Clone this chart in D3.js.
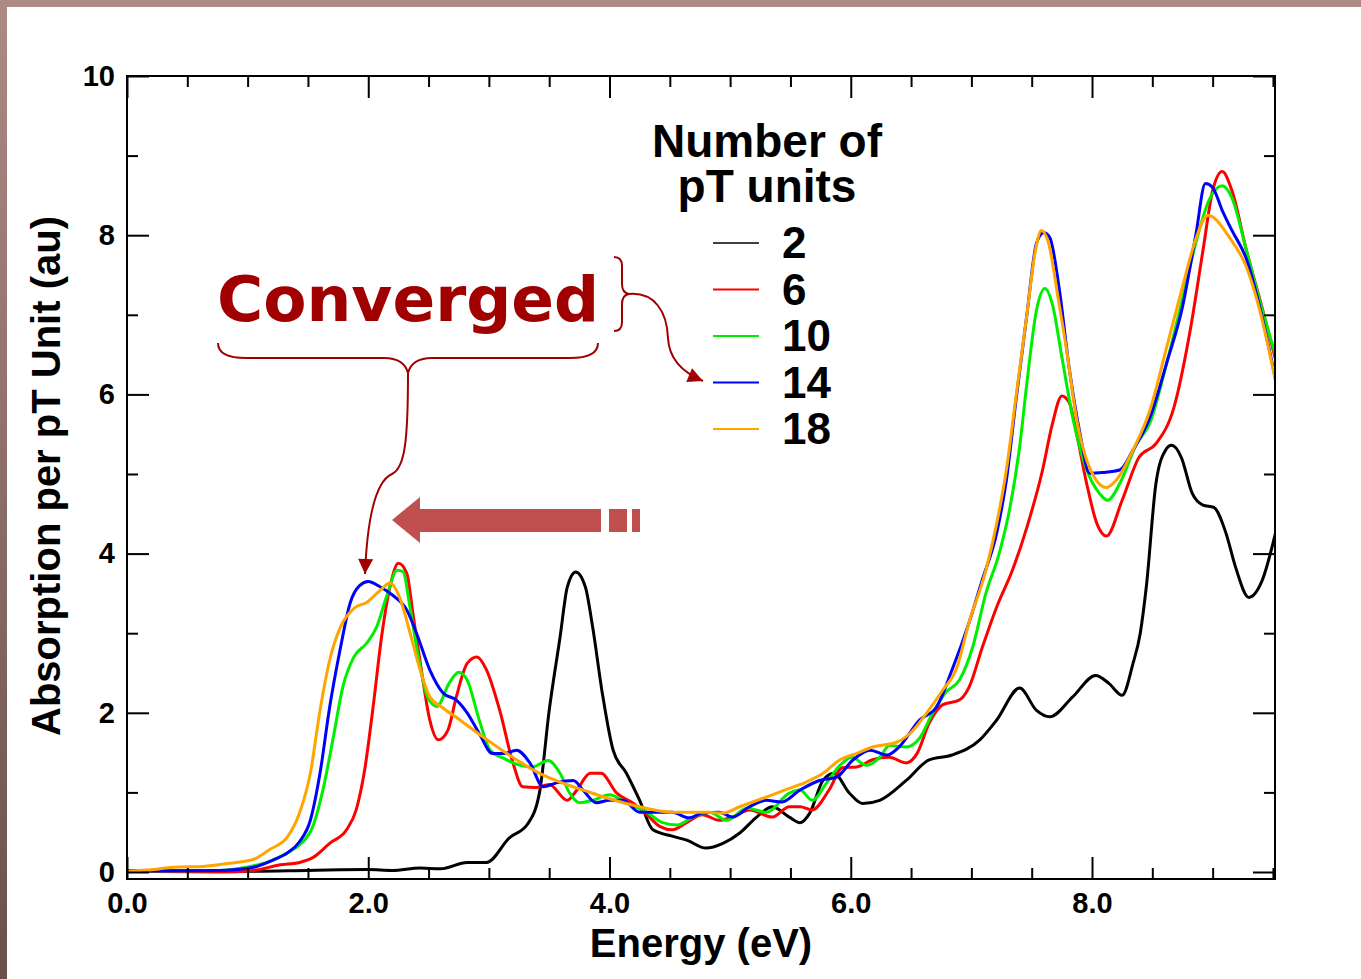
<!DOCTYPE html>
<html>
<head>
<meta charset="utf-8">
<script src="https://cdn.jsdelivr.net/npm/d3@7"></script>
<style>
	body { margin: 0; background: #fff; }
	svg text { font-family: 'Liberation Sans', Arial, sans-serif; font-weight: bold; fill: #000; }
</style>
</head>
<body>
<svg id="chart" width="1361" height="979"></svg>
<script>
// legend entries (number of pT units) and the matching spectra [energy eV, absorption au]
const units = ['2', '6', '10', '14', '18'];

const abs2 = [[0, 0.02], [0.5, 0.02], [1.0, 0.01], [1.5, 0.02], [2.0, 0.03], [2.2, 0.02], [2.43, 0.05], [2.6, 0.04],
	[2.82, 0.12], [2.98, 0.12], [3.17, 0.43], [3.32, 0.6], [3.42, 1.0], [3.5, 2.03], [3.59, 2.95], [3.65, 3.58],
	[3.72, 3.77], [3.8, 3.58], [3.86, 3.08], [3.94, 2.25], [4.03, 1.53], [4.14, 1.24], [4.25, 0.9], [4.36, 0.53],
	[4.52, 0.45], [4.64, 0.4], [4.8, 0.3], [4.94, 0.36], [5.08, 0.49], [5.22, 0.69], [5.35, 0.82], [5.49, 0.69],
	[5.58, 0.62], [5.66, 0.74], [5.77, 1.15], [5.86, 1.24], [5.99, 0.99], [6.1, 0.86], [6.24, 0.9], [6.46, 1.15],
	[6.65, 1.41], [6.84, 1.47], [7.07, 1.66], [7.21, 1.91], [7.4, 2.31], [7.54, 2.03], [7.65, 1.95], [7.84, 2.2],
	[8.03, 2.47], [8.14, 2.37], [8.25, 2.22], [8.34, 2.62], [8.4, 3.0], [8.45, 3.58], [8.53, 4.88], [8.61, 5.3],
	[8.66, 5.36], [8.74, 5.21], [8.83, 4.76], [8.92, 4.61], [9.01, 4.58], [9.11, 4.26], [9.19, 3.83], [9.3, 3.45],
	[9.41, 3.66], [9.52, 4.25]];

const abs6 = [[0, 0.01], [0.77, 0.0], [1.05, 0.02], [1.27, 0.09], [1.43, 0.12], [1.54, 0.18], [1.68, 0.36], [1.82, 0.53],
	[1.9, 0.78], [1.97, 1.28], [2.04, 2.07], [2.11, 2.95], [2.18, 3.58], [2.25, 3.88], [2.32, 3.75], [2.37, 3.25],
	[2.44, 2.54], [2.51, 1.91], [2.58, 1.66], [2.66, 1.78], [2.73, 2.2], [2.82, 2.62], [2.9, 2.7], [2.98, 2.54],
	[3.09, 2.03], [3.2, 1.37], [3.28, 1.07], [3.39, 1.06], [3.5, 1.1], [3.65, 0.9], [3.73, 1.03], [3.84, 1.24],
	[3.93, 1.24], [4.06, 0.99], [4.19, 0.87], [4.31, 0.72], [4.42, 0.57], [4.52, 0.53], [4.64, 0.62], [4.77, 0.72],
	[4.91, 0.65], [5.02, 0.69], [5.16, 0.78], [5.35, 0.69], [5.49, 0.82], [5.58, 0.82], [5.68, 0.78], [5.82, 1.03],
	[5.93, 1.31], [6.05, 1.32], [6.18, 1.41], [6.32, 1.44], [6.46, 1.37], [6.55, 1.49], [6.65, 1.87], [6.76, 2.1],
	[6.9, 2.16], [6.98, 2.32], [7.09, 2.82], [7.21, 3.33], [7.34, 3.79], [7.46, 4.33], [7.59, 5.05], [7.67, 5.62],
	[7.75, 5.98], [7.81, 5.9], [7.88, 5.45], [7.95, 4.92], [8.04, 4.38], [8.12, 4.22], [8.25, 4.67], [8.39, 5.21],
	[8.53, 5.38], [8.68, 5.84], [8.81, 6.77], [8.92, 7.81], [9.0, 8.56], [9.08, 8.8], [9.16, 8.56], [9.28, 7.81],
	[9.41, 7.09], [9.52, 6.45]];

const abs10 = [[0, 0.01], [0.77, 0.02], [0.99, 0.06], [1.16, 0.12], [1.33, 0.24], [1.43, 0.34], [1.54, 0.57], [1.63, 1.07],
	[1.71, 1.69], [1.79, 2.33], [1.88, 2.7], [1.99, 2.88], [2.07, 3.08], [2.15, 3.45], [2.24, 3.79], [2.29, 3.77],
	[2.34, 3.38], [2.41, 2.75], [2.49, 2.2], [2.57, 2.08], [2.67, 2.37], [2.75, 2.51], [2.82, 2.41], [2.92, 1.91],
	[3.01, 1.53], [3.12, 1.43], [3.26, 1.34], [3.36, 1.32], [3.49, 1.4], [3.59, 1.24], [3.67, 0.99], [3.75, 0.87],
	[3.86, 0.9], [4.0, 0.97], [4.14, 0.87], [4.31, 0.75], [4.44, 0.62], [4.56, 0.59], [4.69, 0.69], [4.83, 0.75],
	[4.97, 0.65], [5.14, 0.8], [5.3, 0.75], [5.49, 0.99], [5.58, 1.03], [5.68, 0.9], [5.8, 1.12], [5.91, 1.34],
	[6.01, 1.44], [6.13, 1.34], [6.24, 1.44], [6.32, 1.59], [6.46, 1.57], [6.57, 1.68], [6.68, 2.0], [6.79, 2.26],
	[6.9, 2.41], [7.01, 2.82], [7.12, 3.5], [7.23, 4.0], [7.32, 4.58], [7.4, 5.34], [7.46, 6.14], [7.54, 7.06],
	[7.61, 7.33], [7.67, 7.14], [7.75, 6.47], [7.84, 5.71], [7.95, 5.08], [8.06, 4.76], [8.13, 4.67], [8.23, 4.88],
	[8.37, 5.38], [8.48, 5.64], [8.62, 6.4], [8.75, 7.2], [8.86, 7.9], [8.97, 8.44], [9.08, 8.62], [9.16, 8.47],
	[9.28, 7.81], [9.39, 7.18], [9.52, 6.5]];

const abs14 = [[0, 0.01], [0.77, 0.02], [1.05, 0.06], [1.21, 0.15], [1.33, 0.24], [1.43, 0.38], [1.52, 0.65], [1.6, 1.24],
	[1.68, 2.07], [1.77, 2.82], [1.85, 3.38], [1.93, 3.6], [2.0, 3.65], [2.1, 3.58], [2.2, 3.48], [2.32, 3.29],
	[2.4, 3.0], [2.51, 2.54], [2.62, 2.25], [2.73, 2.16], [2.82, 2.0], [2.92, 1.74], [3.03, 1.49], [3.12, 1.49],
	[3.23, 1.53], [3.34, 1.37], [3.45, 1.07], [3.56, 1.12], [3.7, 1.15], [3.78, 1.03], [3.89, 0.87], [4.0, 0.9],
	[4.11, 0.9], [4.25, 0.75], [4.39, 0.75], [4.52, 0.75], [4.66, 0.68], [4.77, 0.74], [4.91, 0.75], [5.02, 0.69],
	[5.16, 0.82], [5.3, 0.9], [5.43, 0.88], [5.58, 1.03], [5.74, 1.15], [5.88, 1.19], [6.02, 1.41], [6.16, 1.53],
	[6.3, 1.47], [6.4, 1.57], [6.57, 1.91], [6.71, 2.07], [6.84, 2.54], [6.98, 3.13], [7.09, 3.67], [7.21, 4.26],
	[7.29, 4.92], [7.37, 5.93], [7.46, 7.0], [7.54, 7.9], [7.6, 8.03], [7.65, 7.97], [7.73, 7.31], [7.81, 6.34],
	[7.9, 5.51], [7.98, 5.01], [8.09, 5.02], [8.23, 5.05], [8.34, 5.3], [8.48, 5.71], [8.62, 6.4], [8.75, 7.1],
	[8.86, 8.0], [8.94, 8.65], [9.0, 8.6], [9.08, 8.31], [9.16, 8.06], [9.28, 7.7], [9.39, 7.1], [9.52, 6.2]];

const abs18 = [[0, 0.01], [0.22, 0.03], [0.38, 0.06], [0.63, 0.07], [0.85, 0.11], [1.05, 0.16], [1.18, 0.28], [1.33, 0.44],
	[1.43, 0.74], [1.52, 1.24], [1.6, 2.03], [1.68, 2.66], [1.77, 3.08], [1.88, 3.31], [1.99, 3.39], [2.1, 3.54],
	[2.18, 3.63], [2.26, 3.45], [2.34, 3.04], [2.43, 2.54], [2.51, 2.2], [2.62, 2.06], [2.76, 1.91], [2.92, 1.73],
	[3.09, 1.55], [3.26, 1.38], [3.42, 1.24], [3.59, 1.13], [3.8, 1.02], [3.98, 0.93], [4.25, 0.82], [4.52, 0.75],
	[4.8, 0.75], [4.94, 0.74], [5.08, 0.82], [5.35, 0.97], [5.49, 1.05], [5.63, 1.13], [5.77, 1.24], [5.91, 1.41],
	[6.05, 1.49], [6.18, 1.57], [6.38, 1.63], [6.49, 1.74], [6.63, 2.0], [6.76, 2.28], [6.88, 2.57], [6.98, 3.13],
	[7.12, 3.79], [7.21, 4.38], [7.29, 5.05], [7.37, 5.97], [7.46, 7.0], [7.53, 7.8], [7.58, 8.06], [7.64, 7.9],
	[7.72, 7.2], [7.79, 6.55], [7.87, 5.71], [7.98, 5.08], [8.12, 4.83], [8.2, 4.92], [8.34, 5.3], [8.48, 5.8],
	[8.62, 6.6], [8.75, 7.35], [8.86, 7.95], [8.96, 8.25], [9.14, 7.97], [9.28, 7.6], [9.39, 7.06], [9.52, 6.18]];

const spectra = [abs2, abs6, abs10, abs14, abs18];
const colors = ['#000000', '#ff0000', '#00ee00', '#0000ff', '#ffa500'];

const xMajor = [0, 2, 4, 6, 8];
const xMinor = [0.5, 1, 1.5, 2.5, 3, 3.5, 4.5, 5, 5.5, 6.5, 7, 7.5, 8.5, 9, 9.5];
const yMajor = [0, 2, 4, 6, 8, 10];
const yMinor = [1, 3, 5, 7, 9];

const svg = d3.select('#chart');
const plotLeft = 127, plotRight = 1275, plotTop = 76, plotBottom = 879;

const x = d3.scaleLinear().domain([0, 9.517]).range([plotLeft, plotRight]);
const y = d3.scaleLinear().domain([-0.088, 10]).range([plotBottom, plotTop]);

// slide frame: brownish strip on top and a darkening strip on the left
const defs = svg.append('defs');
const grad = defs.append('linearGradient')
	.attr('id', 'sideGrad').attr('x1', 0).attr('y1', 0).attr('x2', 0).attr('y2', 1);
grad.append('stop').attr('offset', '0%').attr('stop-color', '#ad8a84');
grad.append('stop').attr('offset', '100%').attr('stop-color', '#6a504c');
svg.append('rect').attr('x', 0).attr('y', 0).attr('width', 1361).attr('height', 7).attr('fill', '#ad8a84');
svg.append('rect').attr('x', 0).attr('y', 0).attr('width', 7).attr('height', 979).attr('fill', 'url(#sideGrad)');

// arrow head for the annotation
defs.append('marker')
	.attr('id', 'head')
	.attr('viewBox', '0 0 10 10')
	.attr('refX', 10).attr('refY', 5)
	.attr('markerUnits', 'userSpaceOnUse')
	.attr('markerWidth', 17).attr('markerHeight', 15)
	.attr('orient', 'auto')
	.append('path').attr('d', 'M0,0 L10,5 L0,10 Z').attr('fill', '#a00000');

defs.append('clipPath').attr('id', 'plotClip')
	.append('rect').attr('x', plotLeft).attr('y', plotTop)
	.attr('width', plotRight - plotLeft).attr('height', plotBottom - plotTop);

// spectra
const line = d3.line()
	.x((d) => x(d[0]))
	.y((d) => y(d[1]))
	.curve(d3.curveMonotoneX);

svg.append('g').attr('clip-path', 'url(#plotClip)')
	.selectAll('path.spectrum')
	.data(spectra)
	.enter().append('path')
	.attr('class', 'spectrum')
	.attr('d', line)
	.attr('fill', 'none')
	.attr('stroke', (d, i) => colors[i])
	.attr('stroke-width', 3)
	.attr('stroke-linejoin', 'round');

// axes, ticks point inwards on all four sides
function styleAxis(g) {
	g.select('.domain').remove();
	g.selectAll('.tick line').attr('stroke', '#000').attr('stroke-width', 2);
	g.selectAll('.tick text').attr('font-size', 29).attr('fill', '#000');
}

svg.append('g').attr('transform', 'translate(0,' + plotBottom + ')')
	.call(d3.axisBottom(x).tickValues(xMajor).tickSize(-22).tickPadding(13).tickFormat(d3.format('.1f')))
	.call(styleAxis);
svg.append('g').attr('transform', 'translate(0,' + plotBottom + ')')
	.call(d3.axisBottom(x).tickValues(xMinor).tickSize(-11).tickFormat(''))
	.call(styleAxis);
svg.append('g').attr('transform', 'translate(0,' + plotTop + ')')
	.call(d3.axisTop(x).tickValues(xMajor).tickSize(-22).tickFormat(''))
	.call(styleAxis);
svg.append('g').attr('transform', 'translate(0,' + plotTop + ')')
	.call(d3.axisTop(x).tickValues(xMinor).tickSize(-11).tickFormat(''))
	.call(styleAxis);

svg.append('g').attr('transform', 'translate(' + plotLeft + ',0)')
	.call(d3.axisLeft(y).tickValues(yMajor).tickSize(-22).tickPadding(12).tickFormat(d3.format('d')))
	.call(styleAxis);
svg.append('g').attr('transform', 'translate(' + plotLeft + ',0)')
	.call(d3.axisLeft(y).tickValues(yMinor).tickSize(-11).tickFormat(''))
	.call(styleAxis);
svg.append('g').attr('transform', 'translate(' + plotRight + ',0)')
	.call(d3.axisRight(y).tickValues(yMajor).tickSize(-22).tickFormat(''))
	.call(styleAxis);
svg.append('g').attr('transform', 'translate(' + plotRight + ',0)')
	.call(d3.axisRight(y).tickValues(yMinor).tickSize(-11).tickFormat(''))
	.call(styleAxis);

svg.append('rect')
	.attr('x', plotLeft).attr('y', plotTop)
	.attr('width', plotRight - plotLeft).attr('height', plotBottom - plotTop)
	.attr('fill', 'none').attr('stroke', '#000').attr('stroke-width', 2);

// axis titles
svg.append('text')
	.attr('x', (plotLeft + plotRight) / 2)
	.attr('y', 957)
	.attr('text-anchor', 'middle')
	.attr('font-size', 40)
	.text('Energy (eV)');
svg.append('text')
	.attr('transform', 'translate(60,476) rotate(-90)')
	.attr('text-anchor', 'middle')
	.attr('font-size', 40)
	.text('Absorption per pT Unit (au)');

// legend: two-line heading, then one short line + label per series
const heading = svg.append('text').attr('text-anchor', 'middle').attr('font-size', 46);
heading.append('tspan').attr('x', 767).attr('y', 157).text('Number of');
heading.append('tspan').attr('x', 767).attr('y', 202).text('pT units');

let legend = svg.selectAll('.legend').data(units).enter().append('g').attr('class', 'legend');
legend.append('line')
	.attr('x1', 713).attr('x2', 759)
	.attr('y1', (d, i) => 243 + i * 46.5)
	.attr('y2', (d, i) => 243 + i * 46.5)
	.attr('stroke', (d, i) => colors[i])
	.attr('stroke-width', (d, i) => i === 0 ? 1.6 : 2.2);
legend.append('text')
	.attr('x', 782)
	.attr('y', (d, i) => 258 + i * 46.5)
	.attr('font-size', 44)
	.text((d) => d);

// "Converged" annotation
const dark = '#a00000';
svg.append('text')
	.attr('x', 217).attr('y', 321)
	.attr('font-size', 63)
	.style('font-family', "'DejaVu Sans', Verdana, sans-serif")
	.style('fill', dark)
	.text('Converged');

svg.append('path')
	.attr('d', 'M218,343 Q218,358 246,358 L384,358 Q404,358 408,373 Q412,358 432,358 L570,358 Q598,358 598,343')
	.attr('fill', 'none').attr('stroke', dark).attr('stroke-width', 2);
svg.append('path')
	.attr('d', 'M408,373 C408,440 405,468 392,474 C374,482 367,525 365,574')
	.attr('fill', 'none').attr('stroke', dark).attr('stroke-width', 2)
	.attr('marker-end', 'url(#head)');

svg.append('path')
	.attr('d', 'M614,257 Q622,257 622,266 L622,284 Q622,293 629,294 Q622,295 622,304 L622,322 Q622,331 614,331')
	.attr('fill', 'none').attr('stroke', dark).attr('stroke-width', 2);
svg.append('path')
	.attr('d', 'M629,294 C655,292 667,312 668,338 C669,360 684,373 703,381')
	.attr('fill', 'none').attr('stroke', dark).attr('stroke-width', 2)
	.attr('marker-end', 'url(#head)');

// shift arrow (the first peak moves to lower energy)
const arrowRed = '#c0504d';
svg.append('path')
	.attr('d', 'M392,520 L420,497 L420,509 L601,509 L601,532 L420,532 L420,543 Z')
	.attr('fill', arrowRed);
svg.append('rect').attr('x', 609).attr('y', 509).attr('width', 18).attr('height', 23).attr('fill', arrowRed);
svg.append('rect').attr('x', 632).attr('y', 509).attr('width', 8).attr('height', 23).attr('fill', arrowRed);
</script>
</body>
</html>
